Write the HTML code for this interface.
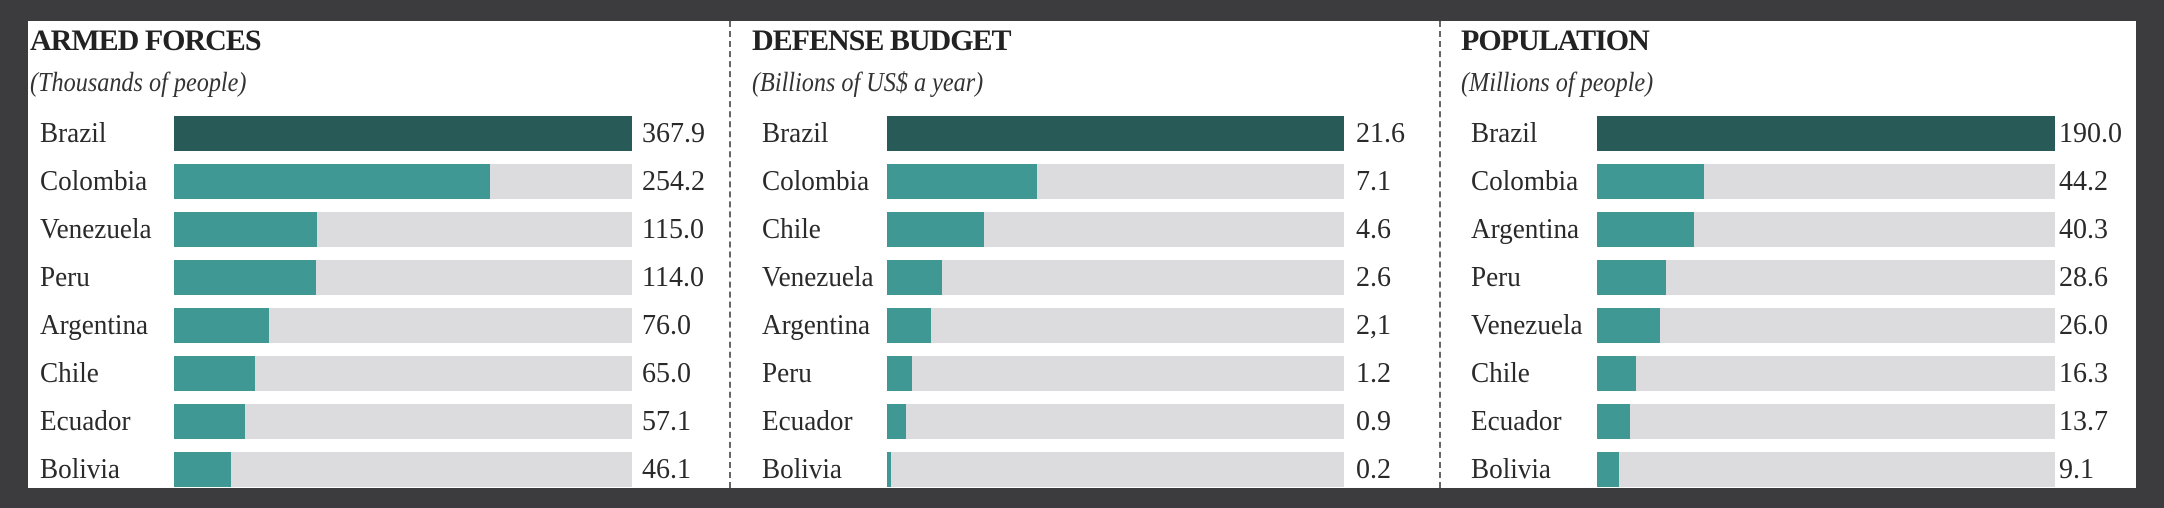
<!DOCTYPE html>
<html><head><meta charset="utf-8"><style>
body{margin:0;width:2164px;height:508px;background:#3c3c3e;position:relative;overflow:hidden;font-family:"Liberation Serif","DejaVu Serif",serif;}
#w{position:absolute;left:28px;top:21px;width:2108px;height:467px;background:#fff;overflow:hidden;}
.d{position:absolute;top:0;height:467px;border-left:2px dashed #666;}
.t{position:absolute;font-weight:bold;font-size:30px;color:#222;letter-spacing:-1px;top:3px;}
.s{position:absolute;font-style:italic;font-size:27.5px;color:#333;top:45px;transform:scaleX(0.88);transform-origin:left;white-space:nowrap;}
.l,.v{position:absolute;font-size:28px;color:#2a2a2a;line-height:35px;}
.l{transform:scaleX(0.97);transform-origin:left;}
.g{position:absolute;height:35px;background:#dcdcde;}
.b{position:absolute;height:35px;background:#3f9893;}
</style></head><body><div id="w">
<div class="d" style="left:701px"></div><div class="d" style="left:1411px"></div>
<div id="c"></div>
</div>
<script>
const panels=[
{x:0,title:"ARMED FORCES",sub:"(Thousands of people)",bx:146,bw:458,vx:614,max:367.9,rows:[["Brazil",367.9,"367.9"],["Colombia",254.2,"254.2"],["Venezuela",115,"115.0"],["Peru",114,"114.0"],["Argentina",76,"76.0"],["Chile",65,"65.0"],["Ecuador",57.1,"57.1"],["Bolivia",46.1,"46.1"]]},
{x:722,title:"DEFENSE BUDGET",sub:"(Billions of US$ a year)",bx:859,bw:457,vx:1328,max:21.6,rows:[["Brazil",21.6,"21.6"],["Colombia",7.1,"7.1"],["Chile",4.6,"4.6"],["Venezuela",2.6,"2.6"],["Argentina",2.1,"2,1"],["Peru",1.2,"1.2"],["Ecuador",0.9,"0.9"],["Bolivia",0.2,"0.2"]]},
{x:1431,title:"POPULATION",sub:"(Millions of people)",bx:1569,bw:458,vx:2031,max:190,rows:[["Brazil",190,"190.0"],["Colombia",44.2,"44.2"],["Argentina",40.3,"40.3"],["Peru",28.6,"28.6"],["Venezuela",26,"26.0"],["Chile",16.3,"16.3"],["Ecuador",13.7,"13.7"],["Bolivia",9.1,"9.1"]]}];
let h="";
for(const p of panels){
h+=`<div class="t" style="left:${p.x+2}px">${p.title}</div><div class="s" style="left:${p.x+2}px">${p.sub}</div>`;
p.rows.forEach((r,i)=>{const y=95+i*48;const w=Math.max(3,Math.round(p.bw*r[1]/p.max));
h+=`<div class="l" style="left:${p.x+12}px;top:${y}px">${r[0]}</div>`;
h+=`<div class="g" style="left:${p.bx}px;top:${y}px;width:${p.bw}px"></div>`;
h+=`<div class="b" style="left:${p.bx}px;top:${y}px;width:${w}px;${i==0?'background:#285b58':''}"></div>`;
h+=`<div class="v" style="left:${p.vx}px;top:${y}px">${r[2]}</div>`;});}
document.getElementById("c").outerHTML=h;
</script></body></html>
